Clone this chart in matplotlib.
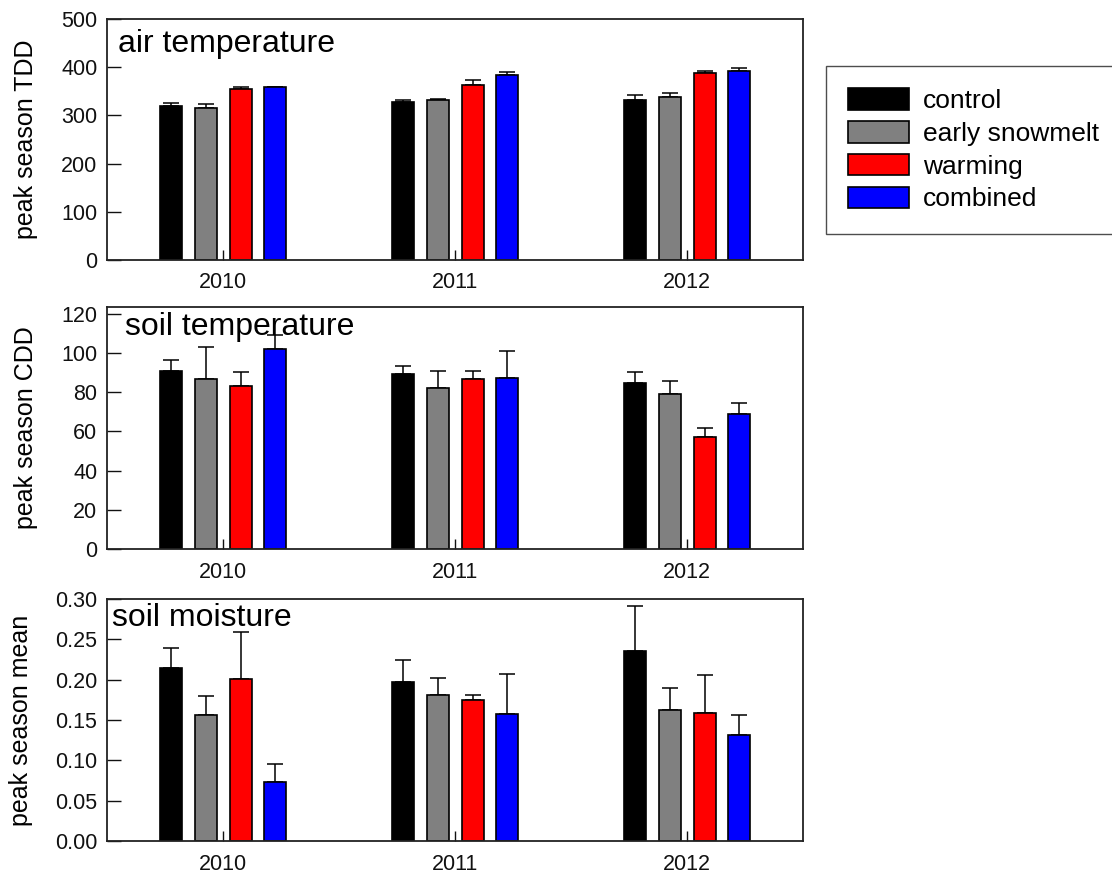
import numpy as np
import matplotlib.pyplot as plt
from matplotlib.patches import Patch

plt.rcParams['font.family'] = ['Liberation Sans', 'DejaVu Sans']

# =========================
# DATA
# =========================
years = ["2010", "2011", "2012"]
treatments = ["control", "early snowmelt", "warming", "combined"]
colors = ["#000000", "#808080", "#ff0000", "#0000ff"]

# air temperature, peak season TDD (mean, SE)
air_control = [320, 327, 331]
air_snowmelt = [316, 332.5, 338]
air_warming = [355, 364, 389]
air_combined = [358, 384, 392.5]
air_control_se = [6, 5, 12]
air_snowmelt_se = [7, 1, 8]
air_warming_se = [4, 9, 3]
air_combined_se = [1.5, 6, 5]

# soil temperature, peak season CDD (mean, SE)
soilt_control = [91, 89.5, 84.5]
soilt_snowmelt = [87, 82, 79]
soilt_warming = [83, 86.6, 57.3]
soilt_combined = [102.2, 87.1, 69]
soilt_control_se = [5.3, 3.9, 6]
soilt_snowmelt_se = [16, 8.7, 6.5]
soilt_warming_se = [7.5, 4, 4.4]
soilt_combined_se = [7, 13.8, 5.3]

# soil moisture, peak season mean (mean, SE)
soilm_control = [0.215, 0.197, 0.235]
soilm_snowmelt = [0.156, 0.181, 0.163]
soilm_warming = [0.201, 0.175, 0.159]
soilm_combined = [0.073, 0.158, 0.132]
soilm_control_se = [0.0245, 0.0276, 0.0566]
soilm_snowmelt_se = [0.024, 0.0205, 0.027]
soilm_warming_se = [0.058, 0.006, 0.0466]
soilm_combined_se = [0.022, 0.049, 0.0247]

panels = [
    dict(title="air temperature", ylabel="peak season TDD",
         means=[air_control, air_snowmelt, air_warming, air_combined],
         ses=[air_control_se, air_snowmelt_se, air_warming_se, air_combined_se],
         ylim=(0, 500), yticks=np.arange(0, 501, 100), fmt="{:.0f}",
         tx=0.016, ty=0.862, lx=-0.099, top=19, height=241),
    dict(title="soil temperature", ylabel="peak season CDD",
         means=[soilt_control, soilt_snowmelt, soilt_warming, soilt_combined],
         ses=[soilt_control_se, soilt_snowmelt_se, soilt_warming_se, soilt_combined_se],
         ylim=(0, 123.5), yticks=np.arange(0, 121, 20), fmt="{:.0f}",
         tx=0.026, ty=0.884, lx=-0.099, top=307, height=242),
    dict(title="soil moisture", ylabel="peak season mean",
         means=[soilm_control, soilm_snowmelt, soilm_warming, soilm_combined],
         ses=[soilm_control_se, soilm_snowmelt_se, soilm_warming_se, soilm_combined_se],
         ylim=(0, 0.30), yticks=np.arange(0, 0.301, 0.05), fmt="{:.2f}",
         tx=0.007, ty=0.89, lx=-0.107, top=599, height=242),
]

# =========================
# FIGURE
# =========================
W, H = 1112, 876
fig = plt.figure(figsize=(W / 100, H / 100), dpi=100)

ax_left = 107 / W
ax_width = 696 / W

x = np.arange(1, len(years) + 1)
offsets = [-0.225, -0.075, 0.076, 0.224]
bar_w = 0.094

for p in panels:
    ax = fig.add_axes([ax_left, 1 - (p["top"] + p["height"]) / H,
                       ax_width, p["height"] / H])
    for k in range(len(treatments)):
        ax.bar(x + offsets[k], p["means"][k], width=bar_w, color=colors[k],
               edgecolor="black", linewidth=1.2, zorder=2)
        ax.errorbar(x + offsets[k], p["means"][k],
                    yerr=[np.zeros(len(years)), p["ses"][k]],
                    fmt="none", ecolor="black", elinewidth=1.1,
                    capsize=6, capthick=1.1, zorder=1)
    ax.set_xlim(0.5, 3.5)
    ax.set_ylim(*p["ylim"])
    ax.set_yticks(p["yticks"])
    ax.set_yticklabels([p["fmt"].format(v) for v in p["yticks"]])
    ax.set_xticks(x)
    ax.set_xticklabels(years)
    ax.tick_params(axis="both", direction="in", width=1, labelsize=15.5,
                   colors="#111111")
    ax.tick_params(axis="y", length=10, pad=7)
    ax.tick_params(axis="x", length=7, pad=9)
    for s in ax.spines.values():
        s.set_linewidth(1.3)
        s.set_color("#222222")
    ax.set_ylabel(p["ylabel"], fontsize=18)
    ax.yaxis.set_label_coords(p["lx"], 0.5)
    ax.text(p["tx"], p["ty"], p["title"], transform=ax.transAxes,
            fontsize=23, va="baseline", ha="left")

handles = [Patch(facecolor=c, edgecolor="black", linewidth=1.2) for c in colors]
leg = fig.legend(handles, treatments, loc="upper left",
                 bbox_to_anchor=(826 / W, 1 - 66 / H), fontsize=19,
                 frameon=True, fancybox=False, borderpad=0.85,
                 handlelength=2.3, handleheight=0.87, handletextpad=0.53,
                 labelspacing=0.3, borderaxespad=0)
leg.get_frame().set_edgecolor("#222222")
leg.get_frame().set_linewidth(1.0)

fig.savefig("out.png", dpi=100)
